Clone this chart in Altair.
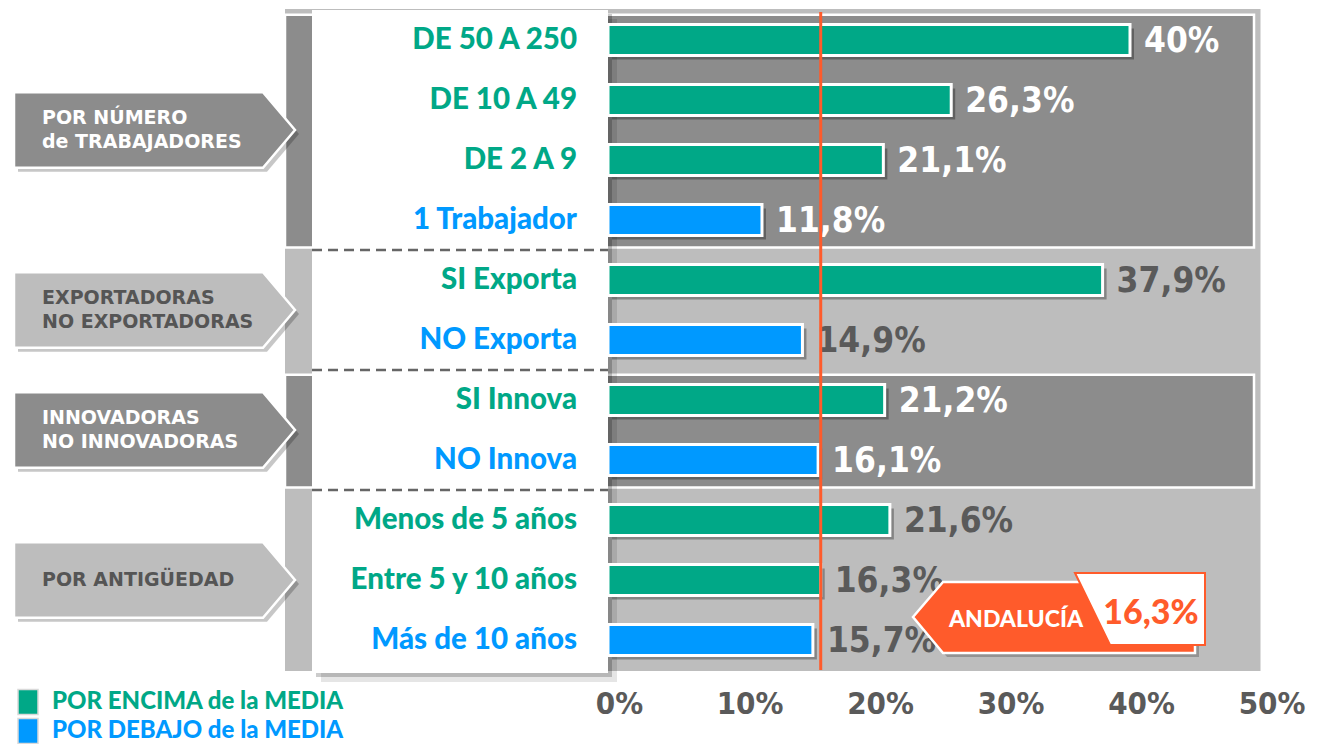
import altair as alt
import pandas as pd

# ---------------- data ----------------
categories = ["DE 50 A 250", "DE 10 A 49", "DE 2 A 9", "1 Trabajador",
              "SI Exporta", "NO Exporta", "SI Innova", "NO Innova",
              "Menos de 5 años", "Entre 5 y 10 años", "Más de 10 años"]
values = [40.0, 26.3, 21.1, 11.8, 37.9, 14.9, 21.2, 16.1, 21.6, 16.3, 15.7]
row_group = [0, 0, 0, 0, 1, 1, 2, 2, 3, 3, 3]
group_names = ["POR NÚMERO\nde TRABAJADORES", "EXPORTADORAS\nNO EXPORTADORAS",
               "INNOVADORAS\nNO INNOVADORAS", "POR ANTIGÜEDAD"]
media_value = 16.3
media_label = "ANDALUCÍA"
x_ticks = [0, 10, 20, 30, 40, 50]
legend_labels = ["POR ENCIMA de la MEDIA", "POR DEBAJO de la MEDIA"]

# ---------------- style ----------------
GREEN = "#00A887"
BLUE = "#0099FF"
DARK = "#8C8C8C"
LIGHT = "#BDBDBD"
ORANGE = "#FF5B2B"
TXT_GRAY = "#5A5A5A"
ROW_FONT = "Lato"
NUM_FONT = "Liberation Sans Narrow, DejaVu Sans Condensed, sans-serif"
GROUP_FONT = "DejaVu Sans"
dark_groups = [True, False, True, False]
G_LINE_H = 24

# layout: page pixel -> data units
K = 13.05          # px per percentage point
X0 = 608           # page x of 0 %
def X(px):
    return (px - X0) / K
def Y(py):
    return (py - 40) / 60.0

W, H = 1308, 664
PAD_B = 72
xs = alt.Scale(domain=[X(8), X(8 + W)], nice=False, zero=False)
ys = alt.Scale(domain=[Y(8), Y(8 + H)], nice=False, zero=False, reverse=True)

X_AXIS = alt.Axis(values=x_ticks, labelExpr="datum.value + '%'", title=None,
                  ticks=False, domain=False, grid=False, labelPadding=17,
                  labelFont=NUM_FONT, labelFontWeight="bold", labelFontSize=31,
                  labelColor=TXT_GRAY, labelOffset=11, labelFlush=False,
                  labelOverlap=False)


def fmt(v):
    s = f"{int(v)}" if float(v).is_integer() else f"{v:.1f}".replace(".", ",")
    return s + "%"


# ---------------- tables ----------------
rows = []
for i, (c, v, g) in enumerate(zip(categories, values, row_group)):
    rows.append(dict(i=i, cat=c, value=v, x0=0.0, lx=X(577),
                     y=i - 0.26, y2=i + 0.26,
                     color=GREEN if v >= media_value else BLUE,
                     label=fmt(v),
                     lcolor="white" if dark_groups[g] else TXT_GRAY))
rows_df = pd.DataFrame(rows)

groups = []
for g, name in enumerate(group_names):
    idx = [i for i, gg in enumerate(row_group) if gg == g]
    groups.append(dict(g=g, name=name, start=min(idx), end=max(idx),
                       center=(min(idx) + max(idx)) / 2.0,
                       dark=dark_groups[g]))

panels_df = pd.DataFrame([
    dict(x=X(285), x2=X(1254), y=r["start"] - 0.42, y2=r["end"] + 0.46)
    for r in groups if r["dark"]])

frame_df = pd.DataFrame([dict(x=X(285), x2=max(x_ticks), y=Y(9), y2=Y(671))])

arrow_pts = []
for r in groups:
    c = r["center"]
    for xp, t, b in [(14, c - 0.63, c + 0.63), (263, c - 0.63, c + 0.63), (295, c, c)]:
        arrow_pts.append(dict(g=r["g"], x=X(xp), y=t, y2=b,
                              fill=DARK if r["dark"] else LIGHT))
arrow_df = pd.DataFrame(arrow_pts)

glabel_df = pd.DataFrame([
    dict(x=X(42),
         y=r["center"] - (r["name"].count("\n")) * G_LINE_H / 2 / 60.0,
         t=r["name"], tc="white" if r["dark"] else "#555555")
    for r in groups])

sep_df = pd.DataFrame([dict(x=X(312), x2=0.0, y=r["start"] - 0.5)
                       for r in groups if r["start"] > 0])

box_df = pd.DataFrame([dict(x=X(312), x2=0.0, y=Y(10), y2=Y(673))])

media_df = pd.DataFrame([dict(x=media_value, y=Y(12), y2=Y(670))])

call_or = pd.DataFrame([dict(x=X(913), y=Y(617), y2=Y(617)),
                        dict(x=X(943), y=Y(582), y2=Y(653)),
                        dict(x=X(1195), y=Y(582), y2=Y(653))])
call_wh = pd.DataFrame([dict(x=X(1075), y=Y(573), y2=Y(573)),
                        dict(x=X(1110), y=Y(573), y2=Y(645)),
                        dict(x=X(1205), y=Y(573), y2=Y(645))])
call_txt = pd.DataFrame([dict(x=X(1016), y=Y(620), t=media_label)])
call_val = pd.DataFrame([dict(x=X(1151), y=Y(614), t=fmt(media_value))])

leg_y = [Y(702), Y(731)]
legend_df = pd.DataFrame([dict(t=t, c=c, x=X(18), x2=X(38), tx=X(52),
                               yc=yc, y=yc - 12.5 / 60, y2=yc + 12.5 / 60)
                          for t, c, yc in zip(legend_labels, [GREEN, BLUE], leg_y)])


def XQ(f):
    return alt.X(f"{f}:Q", scale=xs, axis=X_AXIS)


def YQ(f):
    return alt.Y(f"{f}:Q", scale=ys, axis=None)


# ---------------- layers ----------------
frame = alt.Chart(frame_df).mark_rect(color=LIGHT).encode(
    x=XQ("x"), x2="x2:Q", y=YQ("y"), y2="y2:Q")

panels = alt.Chart(panels_df).mark_rect(color=DARK, stroke="white", strokeWidth=2.5).encode(
    x=XQ("x"), x2="x2:Q", y=YQ("y"), y2="y2:Q")

arrow_sh = alt.Chart(arrow_df).mark_area(orient="vertical", color="black", opacity=0.22,
                                         xOffset=4, yOffset=4, y2Offset=4).encode(
    x=XQ("x"), y=YQ("y"), y2="y2:Q", detail="g:N")

arrows = alt.Chart(arrow_df).mark_area(orient="vertical", stroke="white", strokeWidth=2.5,
                                       opacity=1).encode(
    x=XQ("x"), y=YQ("y"), y2="y2:Q", detail="g:N",
    fill=alt.Fill("fill:N", scale=None))

glabels = alt.Chart(glabel_df).mark_text(align="left", baseline="middle", font=GROUP_FONT,
                                         fontWeight="bold", fontSize=19, lineBreak="\n",
                                         lineHeight=G_LINE_H).encode(
    x=XQ("x"), y=YQ("y"), text="t:N", color=alt.Color("tc:N", scale=None))

box_sh2 = alt.Chart(box_df).mark_rect(color="black", opacity=0.10, xOffset=9, x2Offset=9,
                                      yOffset=9, y2Offset=9).encode(
    x=XQ("x"), x2="x2:Q", y=YQ("y"), y2="y2:Q")
box_sh = alt.Chart(box_df).mark_rect(color="black", opacity=0.20, xOffset=4, x2Offset=4,
                                     yOffset=4, y2Offset=4).encode(
    x=XQ("x"), x2="x2:Q", y=YQ("y"), y2="y2:Q")
box = alt.Chart(box_df).mark_rect(color="white").encode(
    x=XQ("x"), x2="x2:Q", y=YQ("y"), y2="y2:Q")

seps = alt.Chart(sep_df).mark_rule(color="#666666", strokeWidth=2.5, strokeDash=[10, 6]).encode(
    x=XQ("x"), x2="x2:Q", y=YQ("y"))

row_labels = alt.Chart(rows_df).mark_text(align="right", baseline="middle", font=ROW_FONT,
                                          fontWeight=900, fontSize=29.5).encode(
    x=XQ("lx"), y=YQ("i"), text="cat:N", color=alt.Color("color:N", scale=None))

bar_sh = alt.Chart(rows_df).mark_rect(color="black", opacity=0.30, xOffset=4, x2Offset=4,
                                      yOffset=4, y2Offset=4).encode(
    x=XQ("x0"), x2="value:Q", y=YQ("y"), y2="y2:Q")

bars = alt.Chart(rows_df).mark_rect(stroke="white", strokeWidth=3).encode(
    x=XQ("x0"), x2="value:Q", y=YQ("y"), y2="y2:Q",
    fill=alt.Fill("color:N", scale=None))

val_labels = alt.Chart(rows_df).mark_text(align="left", baseline="middle", dx=14, dy=1,
                                          font=NUM_FONT, fontWeight="bold", fontSize=35).encode(
    x=XQ("value"), y=YQ("i"), text="label:N", color=alt.Color("lcolor:N", scale=None))

media_rule = alt.Chart(media_df).mark_rule(color=ORANGE, strokeWidth=3).encode(
    x=XQ("x"), y=YQ("y"), y2="y2:Q")

call_sh = alt.Chart(call_or).mark_area(orient="vertical", color="black", opacity=0.22,
                                       xOffset=4, yOffset=4, y2Offset=4).encode(
    x=XQ("x"), y=YQ("y"), y2="y2:Q")
call_orange = alt.Chart(call_or).mark_area(orient="vertical", color=ORANGE, stroke="white",
                                           strokeWidth=2.5, opacity=1).encode(
    x=XQ("x"), y=YQ("y"), y2="y2:Q")
call_white = alt.Chart(call_wh).mark_area(orient="vertical", color="white", stroke=ORANGE,
                                          strokeWidth=2, opacity=1).encode(
    x=XQ("x"), y=YQ("y"), y2="y2:Q")
call_t1 = alt.Chart(call_txt).mark_text(align="center", baseline="middle", font=ROW_FONT,
                                        fontWeight=900, fontSize=23, color="white").encode(
    x=XQ("x"), y=YQ("y"), text="t:N")
call_t2 = alt.Chart(call_val).mark_text(align="center", baseline="middle", font=ROW_FONT,
                                        fontWeight=900, fontSize=34, color=ORANGE).encode(
    x=XQ("x"), y=YQ("y"), text="t:N")

leg_sq = alt.Chart(legend_df).mark_rect(stroke="#D9D9D9", strokeWidth=1.5).encode(
    x=XQ("x"), x2="x2:Q", y=YQ("y"), y2="y2:Q", fill=alt.Fill("c:N", scale=None))
leg_tx = alt.Chart(legend_df).mark_text(align="left", baseline="middle", font=ROW_FONT,
                                        fontWeight=900, fontSize=24).encode(
    x=XQ("tx"), y=YQ("yc"), text="t:N", color=alt.Color("c:N", scale=None))

chart = alt.layer(
    frame, panels, arrow_sh, arrows, glabels,
    box_sh2, box_sh, box, seps, row_labels,
    bar_sh, bars, val_labels, media_rule,
    call_sh, call_orange, call_white, call_t1, call_t2,
    leg_sq, leg_tx,
).properties(
    width=W, height=H,
    padding={"left": 0, "top": 0, "right": 0, "bottom": PAD_B},
    autosize=alt.AutoSizeParams(type="none"),
    background="white",
).configure_view(stroke=None)

chart.save("out.html", embed_options={"renderer": "svg", "actions": False})
